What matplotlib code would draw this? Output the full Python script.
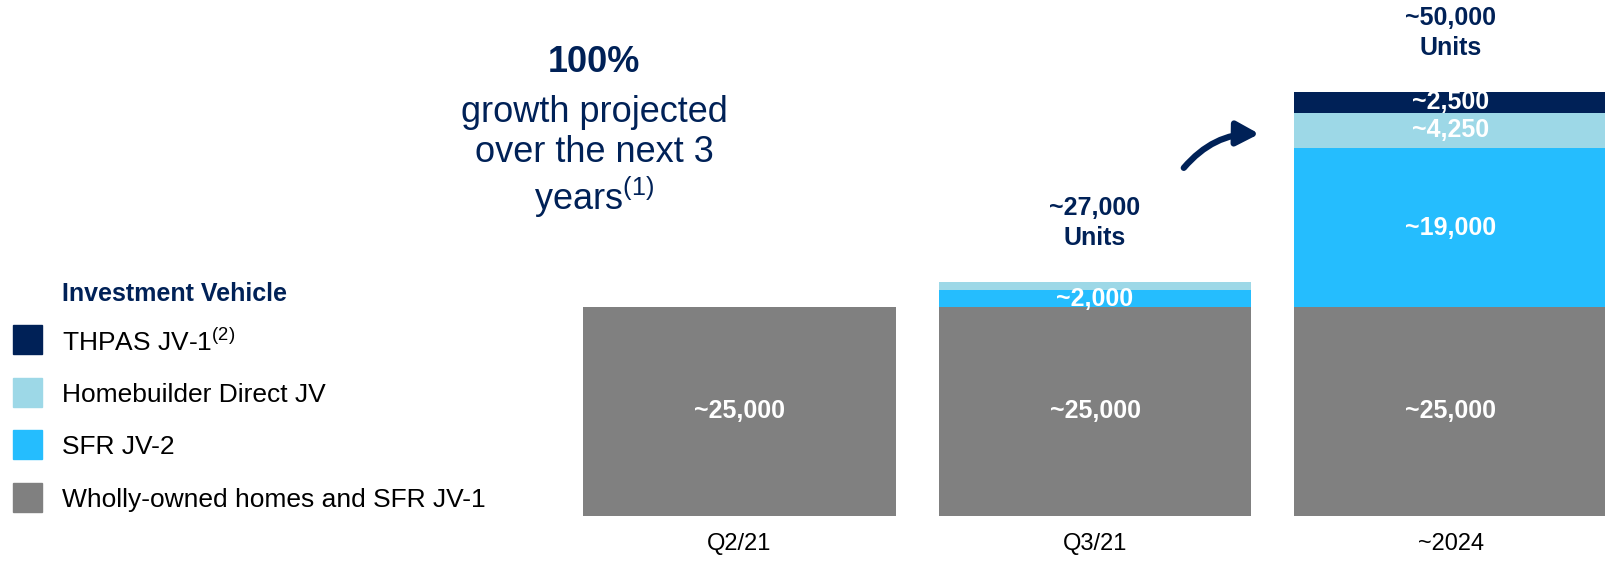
import matplotlib.pyplot as plt
from matplotlib.patches import Rectangle, FancyArrowPatch

plt.rcParams['font.family'] = ['Liberation Sans', 'DejaVu Sans']
plt.rcParams['mathtext.fontset'] = 'custom'
plt.rcParams['mathtext.rm'] = 'Liberation Sans'

# units by period and investment vehicle (stacked bottom -> top)
periods = ['Q2/21', 'Q3/21', '~2024']
vehicles = ['Wholly-owned homes and SFR JV-1', 'SFR JV-2',
            'Homebuilder Direct JV', r'THPAS JV-1$^{\mathrm{(2)}}$']
colors = ['#808080', '#25BDFE', '#9DD8E7', '#002157']
wholly_owned = [25000, 25000, 25000]
sfr_jv2 = [0, 2000, 19000]
homebuilder = [0, 1000, 4250]
thpas = [0, 0, 2500]
segment_labels = [['~25,000', '~25,000', '~25,000'],
                  ['', '~2,000', '~19,000'],
                  ['', '', '~4,250'],
                  ['', '', '~2,500']]
total_labels = ['', '~27,000\nUnits', '~50,000\nUnits']

navy = '#002157'
W, H = 1606, 563


def fpos(x, y):
    # pixel position -> figure fraction
    return x / W, 1 - y / H


fig = plt.figure(figsize=(W / 100, H / 100), dpi=100)
ax = fig.add_axes([583 / W, 47 / H, (W - 583) / W, 516 / H])

series = [wholly_owned, sfr_jv2, homebuilder, thpas]
xs = list(range(len(periods)))
bottom = [0, 0, 0]
for vals, col, labs in zip(series, colors, segment_labels):
    ax.bar(xs, vals, 0.88, bottom=bottom, color=col, clip_on=False)
    for i in xs:
        if labs[i]:
            ax.text(i, bottom[i] + vals[i] / 2, labs[i], ha='center', va='center',
                    color='white', fontsize=18, fontweight='bold')
    bottom = [b + v for b, v in zip(bottom, vals)]

for i in xs:
    if total_labels[i]:
        ax.annotate(total_labels[i], (i, bottom[i]), xytext=(0, 23),
                    textcoords='offset points', ha='center', va='bottom',
                    color=navy, fontsize=18, fontweight='bold', linespacing=1.3)

ax.set_xlim(-0.44, 2.437)
ax.set_ylim(0, 61722)
ax.set_xticks(xs)
ax.set_xticklabels(periods, fontsize=17)
ax.tick_params(axis='x', length=0, pad=12)
ax.set_yticks([])
for s in ax.spines.values():
    s.set_visible(False)
ax.patch.set_alpha(0)

# legend
fig.text(*fpos(62, 294), 'Investment Vehicle', color=navy, fontsize=18,
         fontweight='bold', va='center', ha='left')
for k, (name, col) in enumerate(zip(vehicles[::-1], colors[::-1])):
    top = 325 + k * 52.7
    x0, y0 = fpos(13, top + 29)
    fig.add_artist(Rectangle((x0, y0), 29 / W, 29 / H, color=col,
                             transform=fig.transFigure))
    fig.text(*fpos(62, top + 17), name, fontsize=19, va='center', ha='left')

# headline
fig.text(*fpos(594, 63), '100%', color=navy, fontsize=26, fontweight='bold',
         ha='center', va='center')
for y, line in zip([112, 153, 197], ['growth projected', 'over the next 3',
                                      r'years$^{\mathrm{(1)}}$']):
    fig.text(*fpos(594, y), line, color=navy, fontsize=26, ha='center', va='center')

arrow = FancyArrowPatch(fpos(1182, 170), fpos(1262, 134), transform=fig.transFigure,
                        connectionstyle='arc3,rad=-0.25',
                        arrowstyle='-|>,head_length=0.75,head_width=0.4',
                        mutation_scale=18, color=navy, lw=4.5)
fig.add_artist(arrow)

fig.savefig('out.png', dpi=100)
